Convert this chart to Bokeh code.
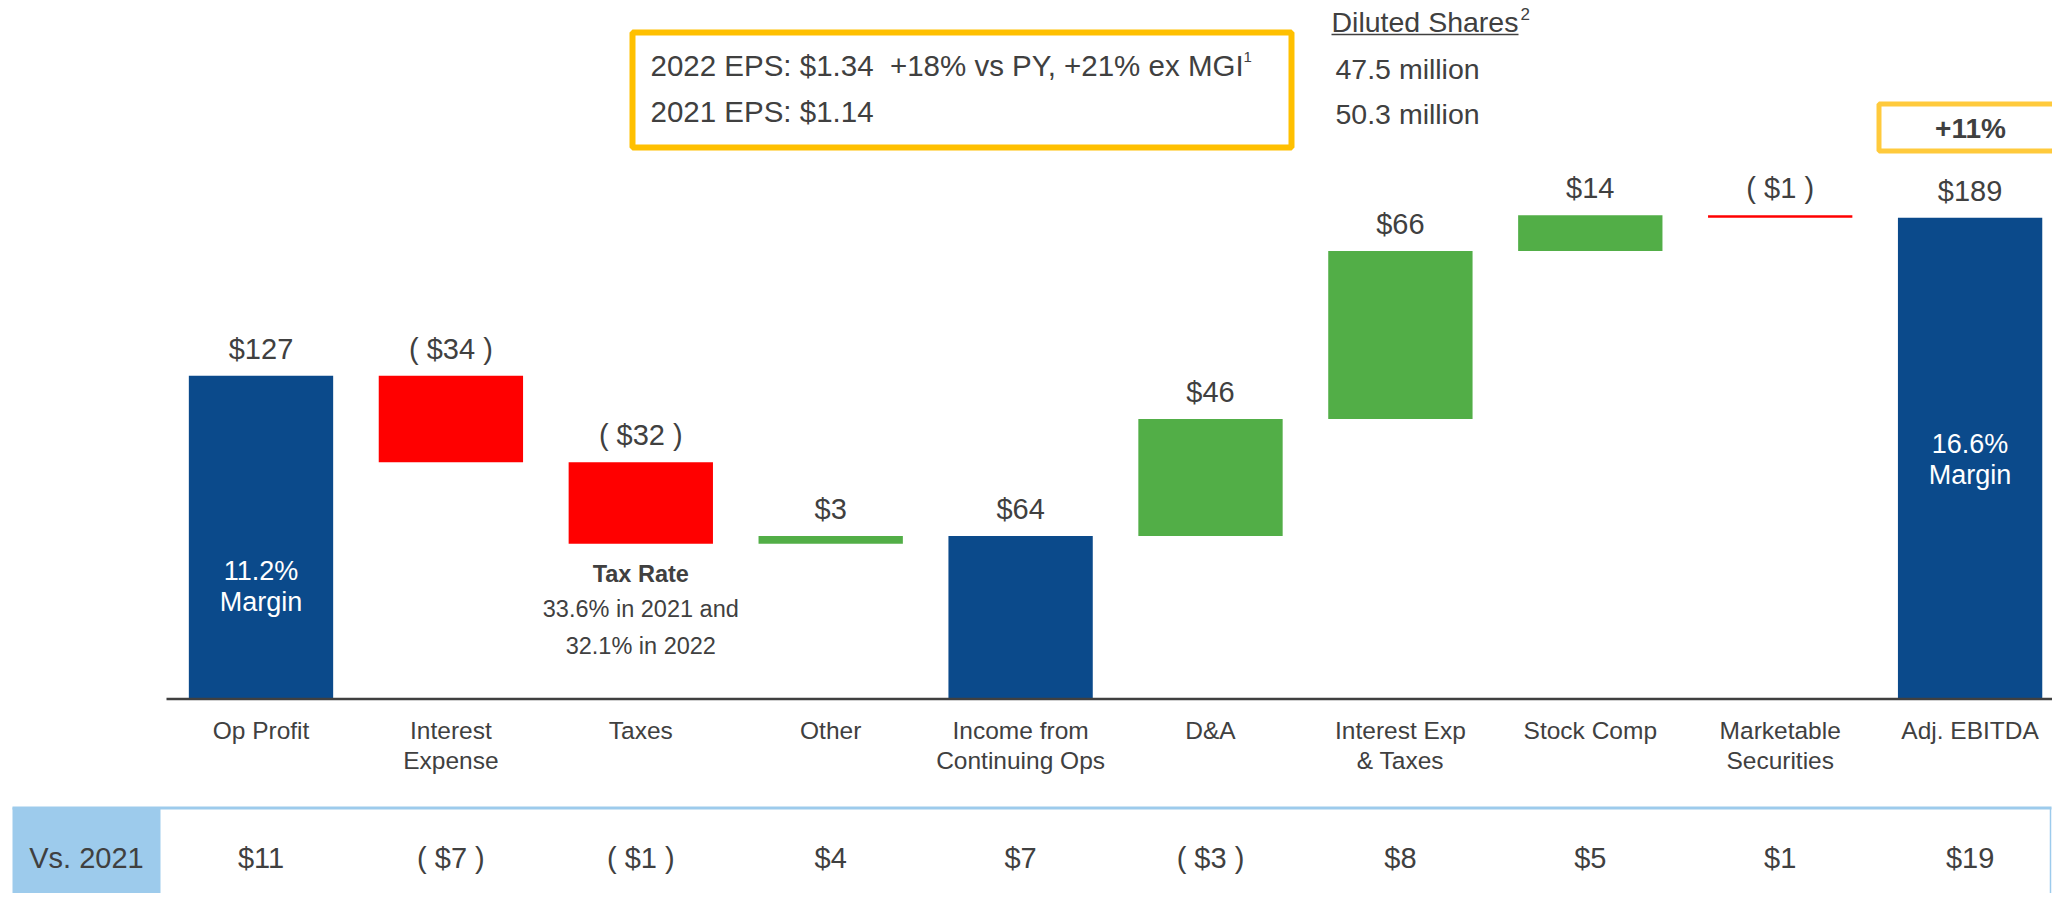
from bokeh.plotting import figure
from bokeh.models import ColumnDataSource, Range1d
from bokeh.core.properties import value
from bokeh.embed import file_html
from bokeh.resources import INLINE

# ---------------- data ----------------
categories = ["Op Profit", "Interest\nExpense", "Taxes", "Other",
              "Income from\nContinuing Ops", "D&A", "Interest Exp\n& Taxes",
              "Stock Comp", "Marketable\nSecurities", "Adj. EBITDA"]
amounts = [127, -34, -32, 3, 64, 46, 66, 14, -1, 189]
is_total = [True, False, False, False, True, False, False, False, False, True]
vs_2021 = [11, -7, -1, 4, 7, -3, 8, 5, 1, 19]
row_label = "Vs. 2021"
margin_idx = [0, 9]
margin_pct = ["11.2%", "16.6%"]
tax_note = ["Tax Rate", "33.6% in 2021 and", "32.1% in 2022"]
eps_lines = ["2022 EPS: $1.34\u00a0 +18% vs PY, +21% ex MGI", "2021 EPS: $1.14"]
shares_title = "Diluted Shares"
shares_lines = ["47.5 million", "50.3 million"]
growth_label = "+11%"

# ---------------- layout (reference pixel geometry) ----------------
W, H = 2052, 893
X_C0, DX = 260.5, 189.9      # centre of first category, category pitch (px)
Y_Z, DY = 698.5, 2.546       # baseline position, px per $1M

def dx(px):
    return (px - X_C0) / DX

def dy(py):
    return (Y_Z - py) / DY

FONT = "Liberation Sans"
GREY = "#404040"
BLUE = "#0B4A8B"
GREEN = "#52AE47"
RED = "#FF0000"
LIGHT_BLUE = "#9DCBEC"
GOLD = "#FFC000"

p = figure(width=W, height=H, x_range=Range1d(dx(0), dx(W)),
           y_range=Range1d(dy(H), dy(0)),
           x_axis_type=None, y_axis_type=None, output_backend="svg",
           toolbar_location=None, min_border=0, outline_line_color=None,
           background_fill_color="white", border_fill_color="white")


def txt(xs, ys, texts, size, color=GREY, align="center", baseline="middle",
        style="normal", y_offset=0):
    src = ColumnDataSource(dict(x=list(xs), y=list(ys), t=list(texts)))
    p.text(x="x", y="y", text="t", source=src, text_font=value(FONT),
           text_font_size=value(size), text_color=color, text_align=align,
           text_baseline=baseline, text_font_style=style, y_offset=y_offset)


def fmt(v):
    return f"${v}" if v >= 0 else f"( ${-v} )"


# ---------------- waterfall ----------------
xs = list(range(len(categories)))
lo, hi, colors = [], [], []
running = 0
for a, tot in zip(amounts, is_total):
    if tot:
        b, t = 0, a
        running = a
        colors.append(BLUE)
    else:
        b, t = running, running + a
        running += a
        colors.append(GREEN if a > 0 else RED)
    lo.append(min(b, t))
    hi.append(max(b, t))

bars = ColumnDataSource(dict(x=xs, lo=lo, hi=hi, c=colors))
p.vbar(x="x", bottom="lo", top="hi", width=0.76, fill_color="c",
       line_color=None, source=bars)

# baseline
p.segment(x0=[dx(166)], y0=[0], x1=[dx(W + 5)], y1=[0], line_color=GREY,
          line_width=2.5)

# value labels
txt(xs, hi, [fmt(a) for a in amounts], "29px", y_offset=-27)

# category labels (split lines)
cx, cy, ct = [], [], []
for i, c in enumerate(categories):
    for k, line in enumerate(c.split("\n")):
        cx.append(i)
        cy.append(dy(729.5 + 30 * k))
        ct.append(line)
txt(cx, cy, ct, "24.5px")

# margin labels inside totals
m_ref = {0: 570, 9: 443}
mx, my, mt = [], [], []
for i, pct in zip(margin_idx, margin_pct):
    for k, line in enumerate([pct, "Margin"]):
        mx.append(i)
        my.append(dy(m_ref[i] + 31 * k))
        mt.append(line)
txt(mx, my, mt, "27px", color="white")

# tax note
txt([2], [dy(573)], [tax_note[0]], "23.5px", style="bold")
txt([2, 2], [dy(608), dy(645)], tax_note[1:], "23.5px")

# ---------------- EPS box ----------------
p.quad(left=[dx(632)], right=[dx(1291)], top=[dy(32)], bottom=[dy(147)],
       fill_color=None, line_color=GOLD, line_width=6)
txt([dx(650), dx(650)], [dy(65), dy(111)], eps_lines, "29.5px", align="left")
txt([dx(1243)], [dy(56)], ["1"], "15px", align="left")

# diluted shares
txt([dx(1331)], [dy(21)], [shares_title], "28.5px", align="left")
p.segment(x0=[dx(1331)], y0=[dy(34)], x1=[dx(1518)], y1=[dy(34)],
          line_color=GREY, line_width=1.5)
txt([dx(1520)], [dy(13)], ["2"], "17px", align="left")
txt([dx(1335), dx(1335)], [dy(68), dy(113)], shares_lines, "28.5px", align="left")

# growth box
p.quad(left=[dx(1878.5)], right=[dx(2075)], top=[dy(103.5)], bottom=[dy(150.5)],
       fill_color=None, line_color="#FFCA3C", line_width=5)
txt([dx(1970)], [dy(128)], [growth_label], "28px", style="bold")

# ---------------- Vs. 2021 table ----------------
p.quad(left=[dx(12)], right=[dx(160)], top=[dy(807)], bottom=[dy(910)],
       fill_color=LIGHT_BLUE, line_color=None)
p.segment(x0=[dx(12)], y0=[dy(807.5)], x1=[dx(W - 1)], y1=[dy(807.5)],
          line_color=LIGHT_BLUE, line_width=3)
p.segment(x0=[dx(W - 2)], y0=[dy(807)], x1=[dx(W - 2)], y1=[dy(910)],
          line_color=LIGHT_BLUE, line_width=1.5)
txt([dx(86)], [dy(857)], [row_label], "29px")
txt(xs, [dy(857)] * len(xs), [fmt(v) for v in vs_2021], "29px")

open("out.html", "w").write(file_html(p, INLINE))
